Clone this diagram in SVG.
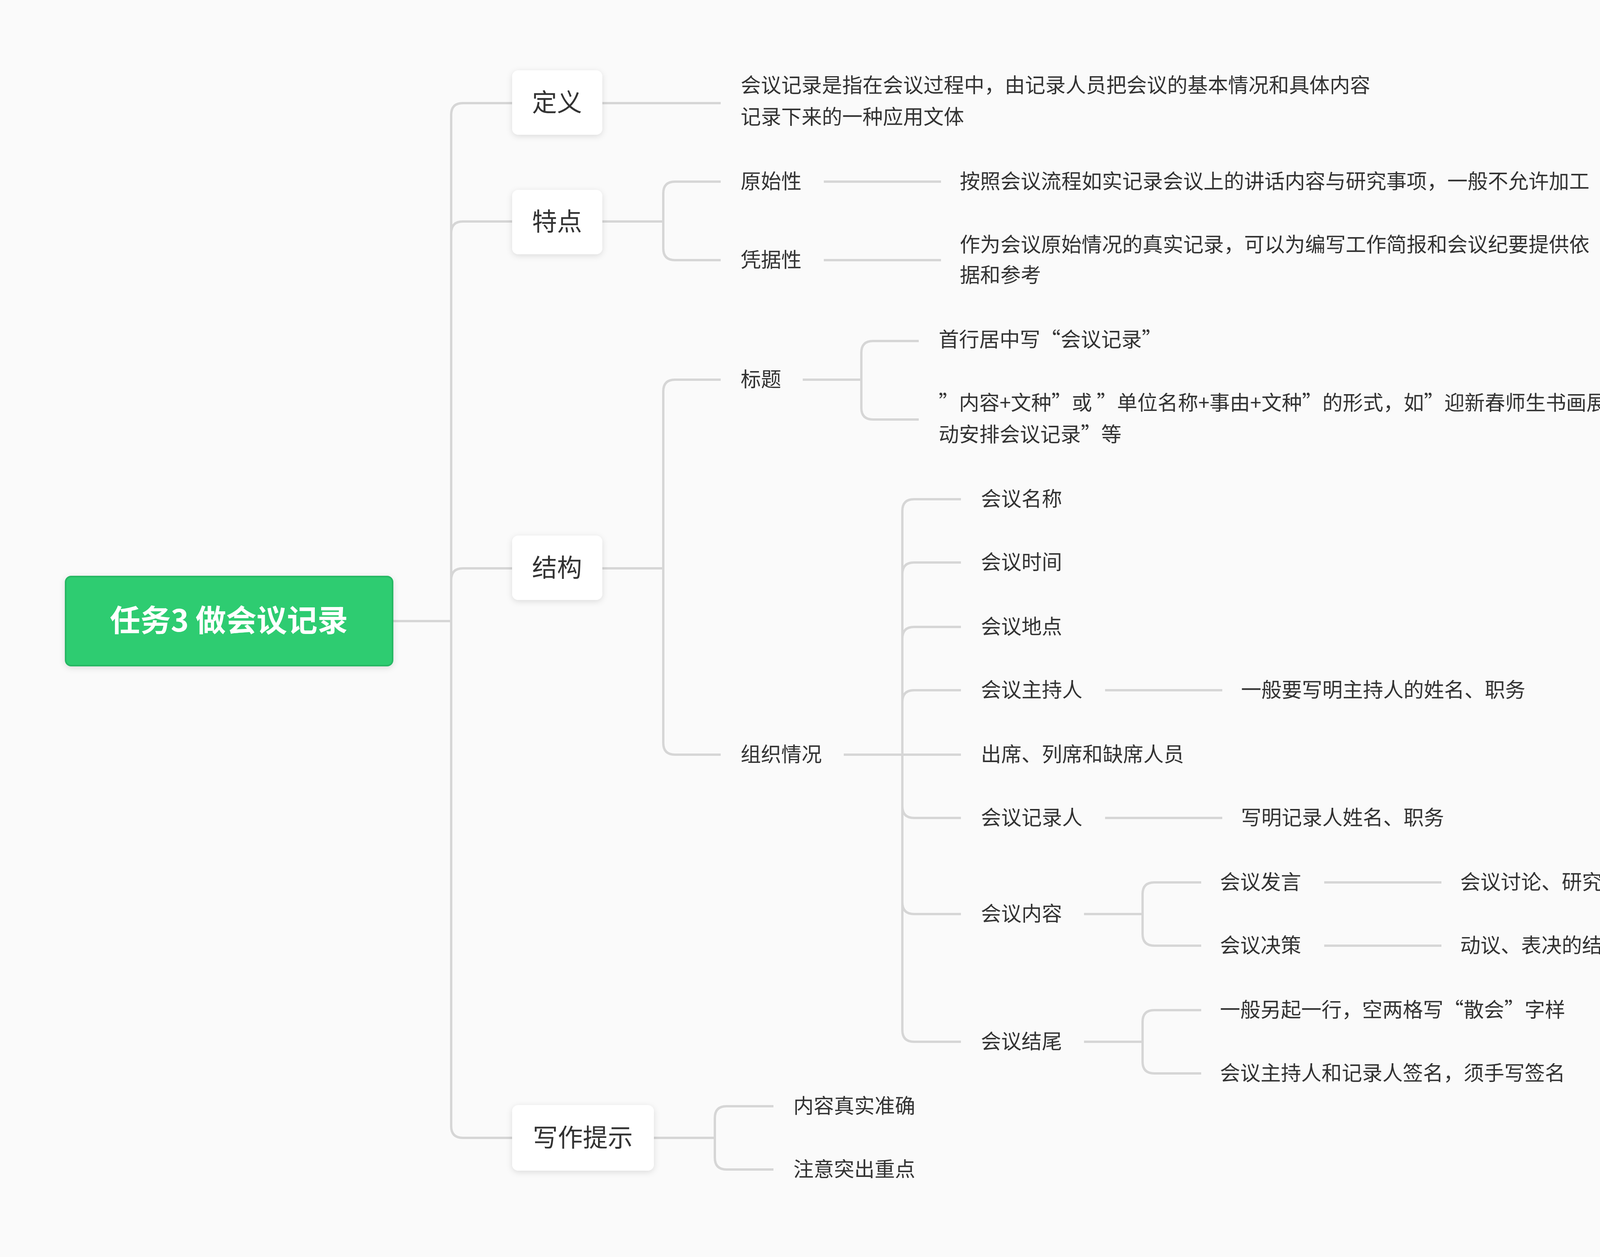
<svg xmlns="http://www.w3.org/2000/svg" width="4698" height="3218" viewBox="0 0 4698 3218">
<style>
.t{font-family:"Noto Sans CJK SC","Noto Sans",sans-serif;font-size:52px;fill:#333}
.n{font-family:"Noto Sans CJK SC","Noto Sans",sans-serif;font-size:64px;fill:#333;text-anchor:middle}
.c path{fill:none;stroke:#d6d6d6;stroke-width:6}
.box{fill:#fff}
</style>
<defs>
<filter id="sh" x="-20%" y="-20%" width="140%" height="150%"><feDropShadow dx="0" dy="4" stdDeviation="8" flood-color="#000" flood-opacity="0.12"/></filter>
</defs>
<rect width="4698" height="3218" fill="#fafafa"/>
<g class="c" id="connectors">
<path d="M1005 1590H1155M1155 1590V294Q1155 264 1185 264H1311M1155 1590V597Q1155 567 1185 567H1311M1155 1590V1485Q1155 1455 1185 1455H1311M1155 1590V2883Q1155 2913 1185 2913H1311"/>
<path d="M1542 264H1845"/>
<path d="M1542 567H1698M1698 567V495Q1698 465 1728 465H1845M1698 567V636Q1698 666 1728 666H1845M2109 465H2409M2109 666H2409"/>
<path d="M1542 1455H1698M1698 1455V1002Q1698 972 1728 972H1845M1698 1455V1902Q1698 1932 1728 1932H1845"/>
<path d="M2055 972H2205M2205 972V903Q2205 873 2235 873H2352M2205 972V1044Q2205 1074 2235 1074H2352"/>
<path d="M2160 1932H2460M2310 1932V1308Q2310 1278 2340 1278H2460M2310 1932V1470Q2310 1440 2340 1440H2460M2310 1932V1635Q2310 1605 2340 1605H2460M2310 1932V1797Q2310 1767 2340 1767H2460M2310 1932V2064Q2310 2094 2340 2094H2460M2310 1932V2310Q2310 2340 2340 2340H2460M2310 1932V2637Q2310 2667 2340 2667H2460"/>
<path d="M2829 1767H3129M2829 2094H3129"/>
<path d="M2775 2340H2925M2925 2340V2289Q2925 2259 2955 2259H3075M2925 2340V2391Q2925 2421 2955 2421H3075M3390 2259H3690M3390 2421H3690"/>
<path d="M2775 2667H2925M2925 2667V2616Q2925 2586 2955 2586H3075M2925 2667V2718Q2925 2748 2955 2748H3075"/>
<path d="M1674 2913H1830M1830 2913V2862Q1830 2832 1860 2832H1980M1830 2913V2964Q1830 2994 1860 2994H1980"/>
</g>
<g id="root"><rect x="168" y="1476" width="837" height="228" rx="14" fill="#2ecc71" stroke="#27b864" stroke-width="4" filter="url(#sh)"/><text x="586" y="1617" font-family="Noto Sans CJK SC,sans-serif" font-size="78" font-weight="bold" fill="#fff" text-anchor="middle">任务3 做会议记录</text></g>
<g id="n-def"><rect class="box" x="1311" y="180" width="231" height="165" rx="16" filter="url(#sh)"/><text class="n" x="1426" y="285">定义</text></g>
<g id="n-feat"><rect class="box" x="1311" y="486" width="231" height="165" rx="16" filter="url(#sh)"/><text class="n" x="1426" y="590">特点</text></g>
<g id="n-struct"><rect class="box" x="1311" y="1371" width="231" height="165" rx="16" filter="url(#sh)"/><text class="n" x="1426" y="1476">结构</text></g>
<g id="n-tips"><rect class="box" x="1311" y="2829" width="363" height="168" rx="16" filter="url(#sh)"/><text class="n" x="1492" y="2935">写作提示</text></g>
<g id="def-text"><text class="t" x="1896" y="237">会议记录是指在会议过程中，由记录人员把会议的基本情况和具体内容</text><text class="t" x="1896" y="318">记录下来的一种应用文体</text></g>
<g id="f1"><text class="t" x="1896" y="483">原始性</text><text class="t" x="2457" y="483">按照会议流程如实记录会议上的讲话内容与研究事项，一般不允许加工</text></g>
<g id="f2"><text class="t" x="1896" y="684">凭据性</text><text class="t" x="2457" y="645">作为会议原始情况的真实记录，可以为编写工作简报和会议纪要提供依</text><text class="t" x="2457" y="723">据和参考</text></g>
<g id="s1"><text class="t" x="1896" y="990">标题</text><text class="t" x="2403" y="888">首行居中写“会议记录”</text><text class="t" x="2403" y="1050">”内容+文种”或 ”单位名称+事由+文种”的形式，如”迎新春师生书画展活</text><text class="t" x="2403" y="1131">动安排会议记录”等</text></g>
<g id="s2"><text class="t" x="1896" y="1950">组织情况</text>
<text class="t" x="2511" y="1296">会议名称</text>
<text class="t" x="2511" y="1458">会议时间</text>
<text class="t" x="2511" y="1623">会议地点</text>
<text class="t" x="2511" y="1785">会议主持人</text><text class="t" x="3177" y="1785">一般要写明主持人的姓名、职务</text>
<text class="t" x="2511" y="1950">出席、列席和缺席人员</text>
<text class="t" x="2511" y="2112">会议记录人</text><text class="t" x="3177" y="2112">写明记录人姓名、职务</text>
<text class="t" x="2511" y="2358">会议内容</text>
<text class="t" x="3123" y="2277">会议发言</text><text class="t" x="3738" y="2277">会议讨论、研究的具体事项</text>
<text class="t" x="3123" y="2439">会议决策</text><text class="t" x="3738" y="2439">动议、表决的结果及最后的决策</text>
<text class="t" x="2511" y="2685">会议结尾</text>
<text class="t" x="3123" y="2604">一般另起一行，空两格写“散会”字样</text>
<text class="t" x="3123" y="2766">会议主持人和记录人签名，须手写签名</text></g>
<g id="tips"><text class="t" x="2031" y="2850">内容真实准确</text><text class="t" x="2031" y="3012">注意突出重点</text></g>
</svg>
